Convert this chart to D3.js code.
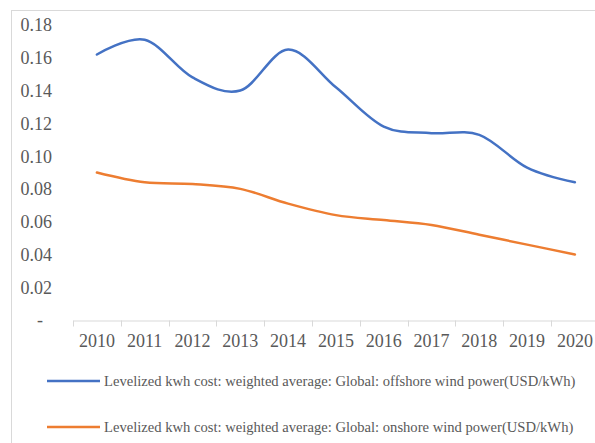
<!DOCTYPE html>
<html><head><meta charset="utf-8">
<script src="https://cdn.jsdelivr.net/npm/d3@7"></script>
<style>body{margin:0;background:#fff;} svg{display:block;}</style>
</head><body>
<svg id="c" width="595" height="443"></svg>
<script>
const years = ["2010","2011","2012","2013","2014","2015","2016","2017","2018","2019","2020"];
const offshore = [0.162,0.171,0.148,0.140,0.165,0.142,0.118,0.114,0.113,0.093,0.084];
const onshore = [0.090,0.084,0.083,0.080,0.071,0.064,0.061,0.058,0.052,0.046,0.040];
const yTicks = [0,0.02,0.04,0.06,0.08,0.10,0.12,0.14,0.16,0.18];
const seriesNames = ["Levelized kwh cost: weighted average: Global: offshore wind power(USD/kWh)",
                     "Levelized kwh cost: weighted average: Global: onshore wind power(USD/kWh)"];
const colors = ["#4472C4","#ED7D31"];

const svg = d3.select("#c");
const font = "'Liberation Serif','Times New Roman',serif";
const txt = "#595959";

// chart area border
svg.append("rect").attr("x",11.5).attr("y",10.5).attr("width",700).attr("height",600)
  .attr("fill","none").attr("stroke","#d9d9d9").attr("stroke-width",1);

const x = d3.scaleBand().domain(years).range([73, 73 + 11*47.8]).padding(0);
const y = d3.scaleLinear().domain([0,0.18]).range([320,25]);

// x axis
const xg = svg.append("g").attr("transform","translate(0,320.5)")
  .call(d3.axisBottom(x).tickSize(0).tickPadding(14));
xg.select(".domain").attr("stroke","#d9d9d9");
xg.selectAll("text").attr("font-family",font).attr("font-size",18).attr("fill",txt).attr("dy","0.71em");
// boundary ticks
const bounds = years.map(d=>x(d)).concat([x(years[years.length-1])+x.step()]);
xg.selectAll(".bt").data(bounds).enter().append("line")
  .attr("x1",d=>Math.round(d)+0.5).attr("x2",d=>Math.round(d)+0.5)
  .attr("y1",0).attr("y2",6).attr("stroke","#d9d9d9");

// y axis
const yg = svg.append("g").attr("transform","translate(52,0)")
  .call(d3.axisLeft(y).tickValues(yTicks).tickSize(0).tickPadding(0)
    .tickFormat(d=> d===0 ? "-" : d3.format(".2f")(d)));
yg.select(".domain").remove();
yg.selectAll("text").attr("font-family",font).attr("font-size",18).attr("fill",txt)
  .attr("dy","0.33em")
  .attr("x", d=> d===0 ? -9 : 0);

// lines
const line = d3.line().x((d,i)=>x(years[i])+x.bandwidth()/2).y(d=>y(d))
  .curve(d3.curveCardinal.tension(0));
[offshore,onshore].forEach((s,i)=>{
  svg.append("path").datum(s).attr("d",line).attr("fill","none")
    .attr("stroke",colors[i]).attr("stroke-width",2.5).attr("stroke-linecap","round");
});

// legend
const legY = [381,427];
seriesNames.forEach((n,i)=>{
  svg.append("line").attr("x1",47).attr("x2",100).attr("y1",legY[i]).attr("y2",legY[i])
    .attr("stroke",colors[i]).attr("stroke-width",2.5);
  svg.append("text").attr("x",104).attr("y",legY[i]).attr("dy","0.33em")
    .attr("font-family",font).attr("font-size",14.6).attr("fill",txt).text(n);
});
</script>
</body></html>
